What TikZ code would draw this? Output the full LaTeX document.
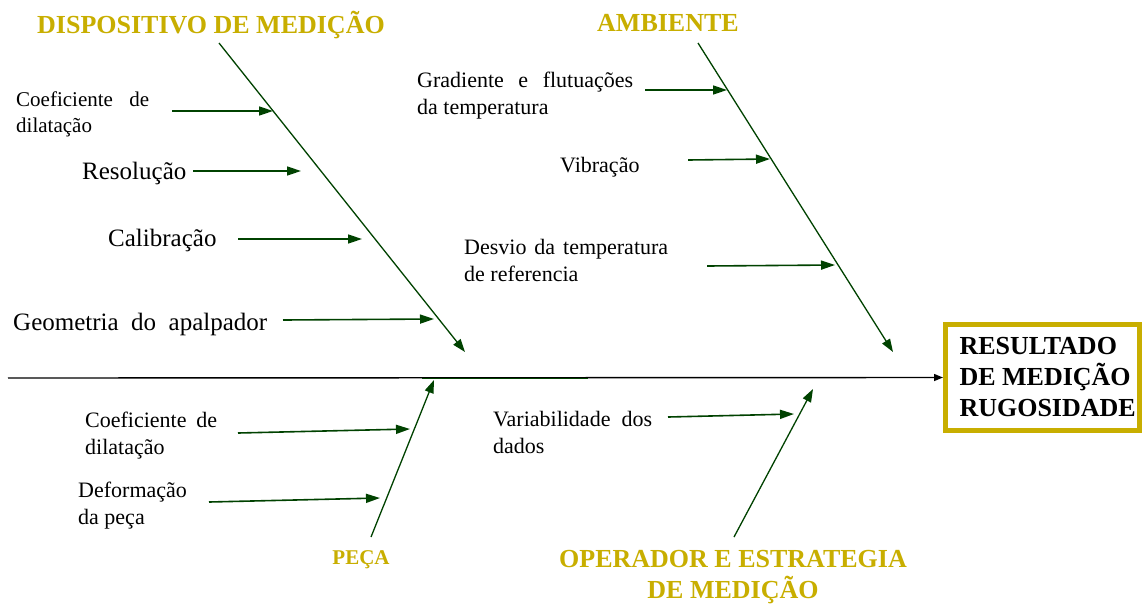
\documentclass[tikz,border=0pt]{standalone}
\usepackage{fontspec}
\setmainfont{Liberation Serif}
\usetikzlibrary{arrows.meta}
\definecolor{gold}{RGB}{200,174,0}
\definecolor{dgreen}{RGB}{0,66,0}
\begin{document}
\begin{tikzpicture}[x=1pt,y=-1pt,
 lbl/.style={anchor=base west,align=left,inner sep=0pt,font=\fontsize{22}{27}\selectfont},
 lbls/.style={anchor=base west,align=left,inner sep=0pt,font=\fontsize{21}{26}\selectfont},
 big/.style={anchor=base west,inner sep=0pt,font=\fontsize{25}{30}\selectfont},
 cat/.style={anchor=base,text=gold,font=\bfseries\fontsize{26}{31}\selectfont,inner sep=0pt,align=center},
 bone/.style={draw=dgreen,line width=1.3pt,-{Triangle[length=13pt,width=9pt]}},
 cause/.style={draw=dgreen,line width=1.6pt,-{Triangle[length=14pt,width=9pt]}},
 spine/.style={draw=black,line width=1.4pt,-{Triangle[length=9pt,width=7pt]}},
 result/.style={draw=gold,line width=5pt,minimum width=194pt,minimum height=106pt,inner sep=0pt,align=left,font=\bfseries\fontsize{26}{31}\selectfont},
]
\useasboundingbox (0,0) rectangle (1142,603);

% categories
\node[cat] (t1) at (211,33) {DISPOSITIVO DE MEDIÇÃO};
\node[cat] (t2) at (668,31) {AMBIENTE};
\node[cat,font=\bfseries\fontsize{21}{25}\selectfont] (t3) at (361,564) {PEÇA};
\node[cat] (t4) at (733,598) {OPERADOR E ESTRATEGIA\\DE MEDIÇÃO};

% effect box
\node[result] (res) at (1042.5,377.5) {\raisebox{-2pt}{\makebox[166pt][l]{\parbox{180pt}{\raggedright RESULTADO\\DE MEDIÇÃO\\RUGOSIDADE}}}};

% spine
\coordinate (tail) at (8,378);
\draw[spine] (tail) -- (res.west);
\coordinate (g1) at (422,378);
\coordinate (g2) at (588,378);
\draw[dgreen,line width=0.9pt] (g1) -- (g2);

% bones
\coordinate (b1s) at (219,43);  \coordinate (b1e) at (465,352);
\coordinate (b2s) at (698,43);  \coordinate (b2e) at (893,352);
\coordinate (b3s) at (371,537); \coordinate (b3e) at (434,380);
\coordinate (b4s) at (734,537); \coordinate (b4e) at (813,389);
\draw[bone] (b1s) -- (b1e);
\draw[bone] (b2s) -- (b2e);
\draw[bone] (b3s) -- (b3e);
\draw[bone] (b4s) -- (b4e);

% causes: dispositivo
\node[lbls] (c1) at (16,132) {\makebox[133pt][s]{Coeficiente de}\\dilatação};
\node[big] (c2) at (82,179) {Resolução};
\node[big] (c3) at (108,246) {Calibração};
\node[big] (c4) at (13,330) {\makebox[254pt][s]{Geometria do apalpador}};
\coordinate (a1s) at (172,111); \coordinate (a1e) at (273,111);
\coordinate (a2s) at (193,171); \coordinate (a2e) at (301,171);
\coordinate (a3s) at (238,239); \coordinate (a3e) at (362,239);
\coordinate (a4s) at (283,320); \coordinate (a4e) at (434,319);
\draw[cause] (a1s) -- (a1e);
\draw[cause] (a2s) -- (a2e);
\draw[cause] (a3s) -- (a3e);
\draw[cause] (a4s) -- (a4e);

% causes: ambiente
\node[lbl] (c5) at (417,114) {\makebox[216pt][s]{Gradiente e flutuações}\\da temperatura};
\node[lbl] (c6) at (560,172) {Vibração};
\node[lbl] (c7) at (464,281) {\makebox[204pt][s]{Desvio da temperatura}\\de referencia};
\coordinate (a5s) at (645,90);  \coordinate (a5e) at (727,90);
\coordinate (a6s) at (688,160); \coordinate (a6e) at (770,159);
\coordinate (a7s) at (707,266); \coordinate (a7e) at (835,265);
\draw[cause] (a5s) -- (a5e);
\draw[cause] (a6s) -- (a6e);
\draw[cause] (a7s) -- (a7e);

% causes: peca
\node[lbl] (c8) at (85,454) {\makebox[132pt][s]{Coeficiente de}\\dilatação};
\node[lbl] (c9) at (78,524) {Deformação\\da peça};
\coordinate (a8s) at (238,433); \coordinate (a8e) at (410,429);
\coordinate (a9s) at (209,502); \coordinate (a9e) at (380,498);
\draw[cause] (a8s) -- (a8e);
\draw[cause] (a9s) -- (a9e);

% causes: operador
\node[lbl] (c10) at (493,453) {\makebox[159pt][s]{Variabilidade dos}\\dados};
\coordinate (a10s) at (668,417); \coordinate (a10e) at (794,414);
\draw[cause] (a10s) -- (a10e);
\end{tikzpicture}
\end{document}
